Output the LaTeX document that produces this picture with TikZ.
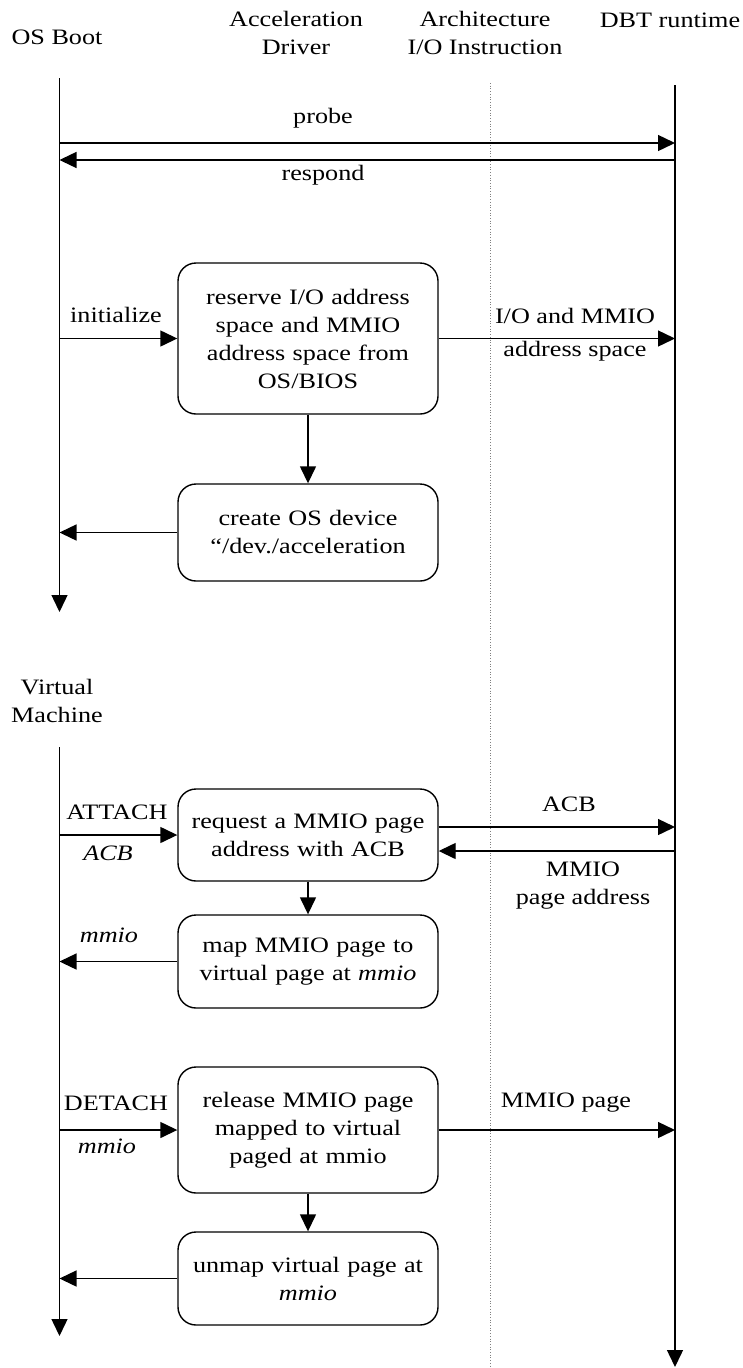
\documentclass[tikz,border=0pt]{standalone}
\usepackage{fontspec}
\setmainfont{Liberation Serif}[FakeStretch=1.19]
\usetikzlibrary{arrows.meta}
\begin{document}
\begin{tikzpicture}[x=1pt,y=-1pt,
  every node/.style={font=\fontsize{22}{28}\selectfont, inner sep=0pt},
  box/.style={draw, line width=1.4pt, rounded corners=18pt, minimum width=260pt, text width=250pt, align=center},
  msg/.style={-{Triangle[length=17pt,width=16pt]}, line width=1.4pt},
  sep/.style={gray, line width=0.7pt, dotted},
  lbl/.style={align=center}
]
\useasboundingbox (0,0) rectangle (742,1368);
% headers
\node[lbl] (hOS) at (57,37) {OS Boot};
\node[lbl] (hAD) at (296,33) {Acceleration\\Driver};
\node[lbl] (hAI) at (485,33) {Architecture\\I/O Instruction};
\node[lbl] (hDBT) at (670,20) {DBT runtime};
\node[lbl] (hVM) at (57,701) {Virtual\\Machine};
% lifeline coordinates
\coordinate (osT) at (59.5,78);
\coordinate (osB) at (59.5,612);
\coordinate (vmT) at (59.5,747);
\coordinate (vmB) at (59.5,1336);
\coordinate (dbtT) at (675,85);
\coordinate (dbtB) at (675,1367);
\coordinate (sepT) at (490,83);
\coordinate (sepB) at (490,1368);
\draw[sep] (sepT) -- (sepB);
\draw[msg] (osT) -- (osB);
\draw[msg] (vmT) -- (vmB);
\draw[msg] (dbtT) -- (dbtB);
% probe / respond
\coordinate (pr) at (59.5,143);
\coordinate (rs) at (59.5,160);
\draw[msg] (pr) -- (pr -| dbtT);
\draw[msg] (rs -| dbtT) -- (rs);
\node[lbl] (lprobe) at (323,118) {probe};
\node[lbl] (lresp) at (323,175) {respond};
% boxes
\node[box, minimum height=151pt] (b1) at (308,338.5) {reserve I/O address\\space and MMIO\\address space from\\OS/BIOS};
\node[box, minimum height=97pt] (b2) at (308,532.5) {create OS device\\“/dev./acceleration};
\node[box, minimum height=92pt] (b3) at (308,835) {request a MMIO page\\address with ACB};
\node[box, minimum height=93pt] (b4) at (308,961.5) {map MMIO page to\\virtual page at \textit{mmio}};
\node[box, minimum height=126pt] (b5) at (308,1130) {release MMIO page\\mapped to virtual\\paged at mmio};
\node[box, minimum height=93pt] (b6) at (308,1278.5) {unmap virtual page at\\\textit{mmio}};
% block 1
\draw[msg] (b1.west -| osT) -- (b1.west);
\node[lbl] (linit) at (116,315) {initialize};
\draw[msg] (b1.east) -- (b1.east -| dbtT);
\node[lbl] (lio) at (575,316) {I/O and MMIO};
\node[lbl] (las) at (575,351) {address space};
\draw[msg] (b1) -- (b2);
\draw[msg] (b2.west) -- (b2.west -| osT);
% block 2
\draw[msg] (b3.west -| vmT) -- (b3.west);
\node[lbl] (latt) at (117,812) {ATTACH};
\node[lbl] (lacb) at (108,853) {\textit{ACB}};
\draw[msg] ([yshift=8pt]b3.east) -- ([yshift=8pt]b3.east -| dbtT);
\node[lbl] (lacb2) at (569,804) {ACB};
\draw[msg] ([yshift=-16pt]b3.east -| dbtT) -- ([yshift=-16pt]b3.east);
\node[lbl] (lmpa) at (583,886) {MMIO\\page address};
\draw[msg] (b3) -- (b4);
\draw[msg] (b4.west) -- (b4.west -| vmT);
\node[lbl] (lmm1) at (109,935) {\textit{mmio}};
% block 3
\draw[msg] (b5.west -| vmT) -- (b5.west);
\node[lbl] (ldet) at (116,1103) {DETACH};
\node[lbl] (lmm2) at (107,1146) {\textit{mmio}};
\draw[msg] (b5.east) -- (b5.east -| dbtT);
\node[lbl] (lmp) at (566,1103) {MMIO page};
\draw[msg] (b5) -- (b6);
\draw[msg] (b6.west) -- (b6.west -| vmT);
\end{tikzpicture}
\end{document}
